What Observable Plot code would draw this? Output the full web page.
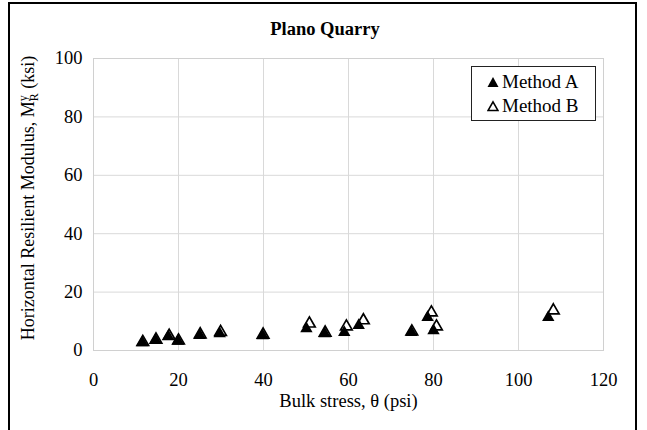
<!DOCTYPE html>
<html>
<head>
<meta charset="utf-8">
<script src="https://cdn.jsdelivr.net/npm/d3@7"></script>
<script src="https://cdn.jsdelivr.net/npm/@observablehq/plot@0.6"></script>
<style>
  html, body { margin: 0; padding: 0; background: white; }
  #wrap { position: relative; width: 647px; height: 430px; overflow: hidden; font-family: "Liberation Serif", "Times New Roman", serif; }
  #border { position: absolute; left: 8px; top: 2px; width: 629px; height: 440px; border: 2px solid black; box-sizing: border-box; }
  #title { position: absolute; left: 0; width: 650px; top: 19px; text-align: center; font-weight: bold; font-size: 18.5px; }
  #chart { position: absolute; left: 0; top: 0; }
  #legend { position: absolute; left: 471px; top: 66px; width: 125px; height: 55px; border: 1px solid #222; background: white; box-sizing: border-box; font-size: 19px; line-height: 22px; }
  .row { position: absolute; left: 15px; display: flex; align-items: center; }
  .row svg { margin-right: 3px; }
</style>
</head>
<body>
<div id="wrap">
  <div id="chart"></div>
  <div id="border"></div>
  <div id="title">Plano Quarry</div>
  <div id="legend">
    <div class="row" style="top:4px"><svg width="12" height="12"><polygon points="6,1 11.5,11 0.5,11" fill="black"/></svg>Method A</div>
    <div class="row" style="top:28px"><svg width="12" height="12"><polygon points="6,1.8 11,10.5 1,10.5" fill="white" stroke="black" stroke-width="1.6"/></svg>Method B</div>
  </div>
</div>
<script>
const methodAX = [11.5, 14.6, 17.6, 19.9, 25.0, 29.7, 39.8, 50.1, 54.4, 59.0, 62.4, 74.8, 78.6, 80.0, 107.0];
const methodAY = [2.7, 3.5, 4.7, 3.2, 5.2, 5.8, 5.1, 7.5, 5.8, 6.2, 8.6, 6.2, 11.3, 6.8, 11.3];
const methodBX = [11.6, 14.7, 17.8, 20.0, 25.1, 29.9, 39.9, 50.8, 54.5, 59.5, 63.5, 74.9, 79.5, 80.7, 108.2];
const methodBY = [2.9, 3.7, 5.0, 3.4, 5.5, 6.3, 5.4, 9.2, 6.1, 8.2, 10.3, 6.5, 13.0, 8.2, 13.7];
const xTicks = [0, 20, 40, 60, 80, 100, 120];
const yTicks = [0, 20, 40, 60, 80, 100];
const xLabel = "Bulk stress, θ (psi)";

const A = methodAX.map((x, i) => ({x, y: methodAY[i]}));
const B = methodBX.map((x, i) => ({x, y: methodBY[i]}));

const chart = Plot.plot({
  width: 647, height: 430,
  marginLeft: 93, marginRight: 44, marginTop: 58, marginBottom: 80,
  style: {fontFamily: "'Liberation Serif', 'Times New Roman', serif", fontSize: "18.5px", background: "transparent", color: "black"},
  x: {domain: [0, 120], label: null},
  y: {domain: [0, 100], label: null},
  marks: [
    Plot.gridX(xTicks, {stroke: "#d9d9d9", strokeOpacity: 1}),
    Plot.gridY(yTicks, {stroke: "#d9d9d9", strokeOpacity: 1}),
    Plot.frame({stroke: "#d0d0d0"}),
    Plot.axisX({ticks: xTicks, tickSize: 0, tickPadding: 22, fontSize: 18.5, label: null}),
    Plot.axisY({ticks: yTicks, tickSize: 0, tickPadding: 11, fontSize: 18.5, label: null}),
    Plot.dot(B, {x: "x", y: "y", symbol: "triangle", r: 4.3, fill: "white", stroke: "black", strokeWidth: 1.7}),
    Plot.dot(A, {x: "x", y: "y", symbol: "triangle", r: 4.6, fill: "black", stroke: "none"}),
    Plot.text([xLabel], {frameAnchor: "bottom", dy: 56, fontSize: 18.5})
  ]
});
document.getElementById("chart").appendChild(chart);

const svg = d3.select(chart);
const t = svg.append("text")
  .attr("transform", "translate(34,198) rotate(-90)")
  .attr("text-anchor", "middle")
  .attr("font-size", 18)
  .attr("fill", "black");
t.append("tspan").text("Horizontal Resilient Modulus, M");
t.append("tspan").attr("font-size", 12).attr("dy", -7).text("y");
t.append("tspan").attr("font-size", 12).attr("dx", -6).attr("dy", 11).text("R");
t.append("tspan").attr("dy", -4).text(" (ksi)");
</script>
</body>
</html>
